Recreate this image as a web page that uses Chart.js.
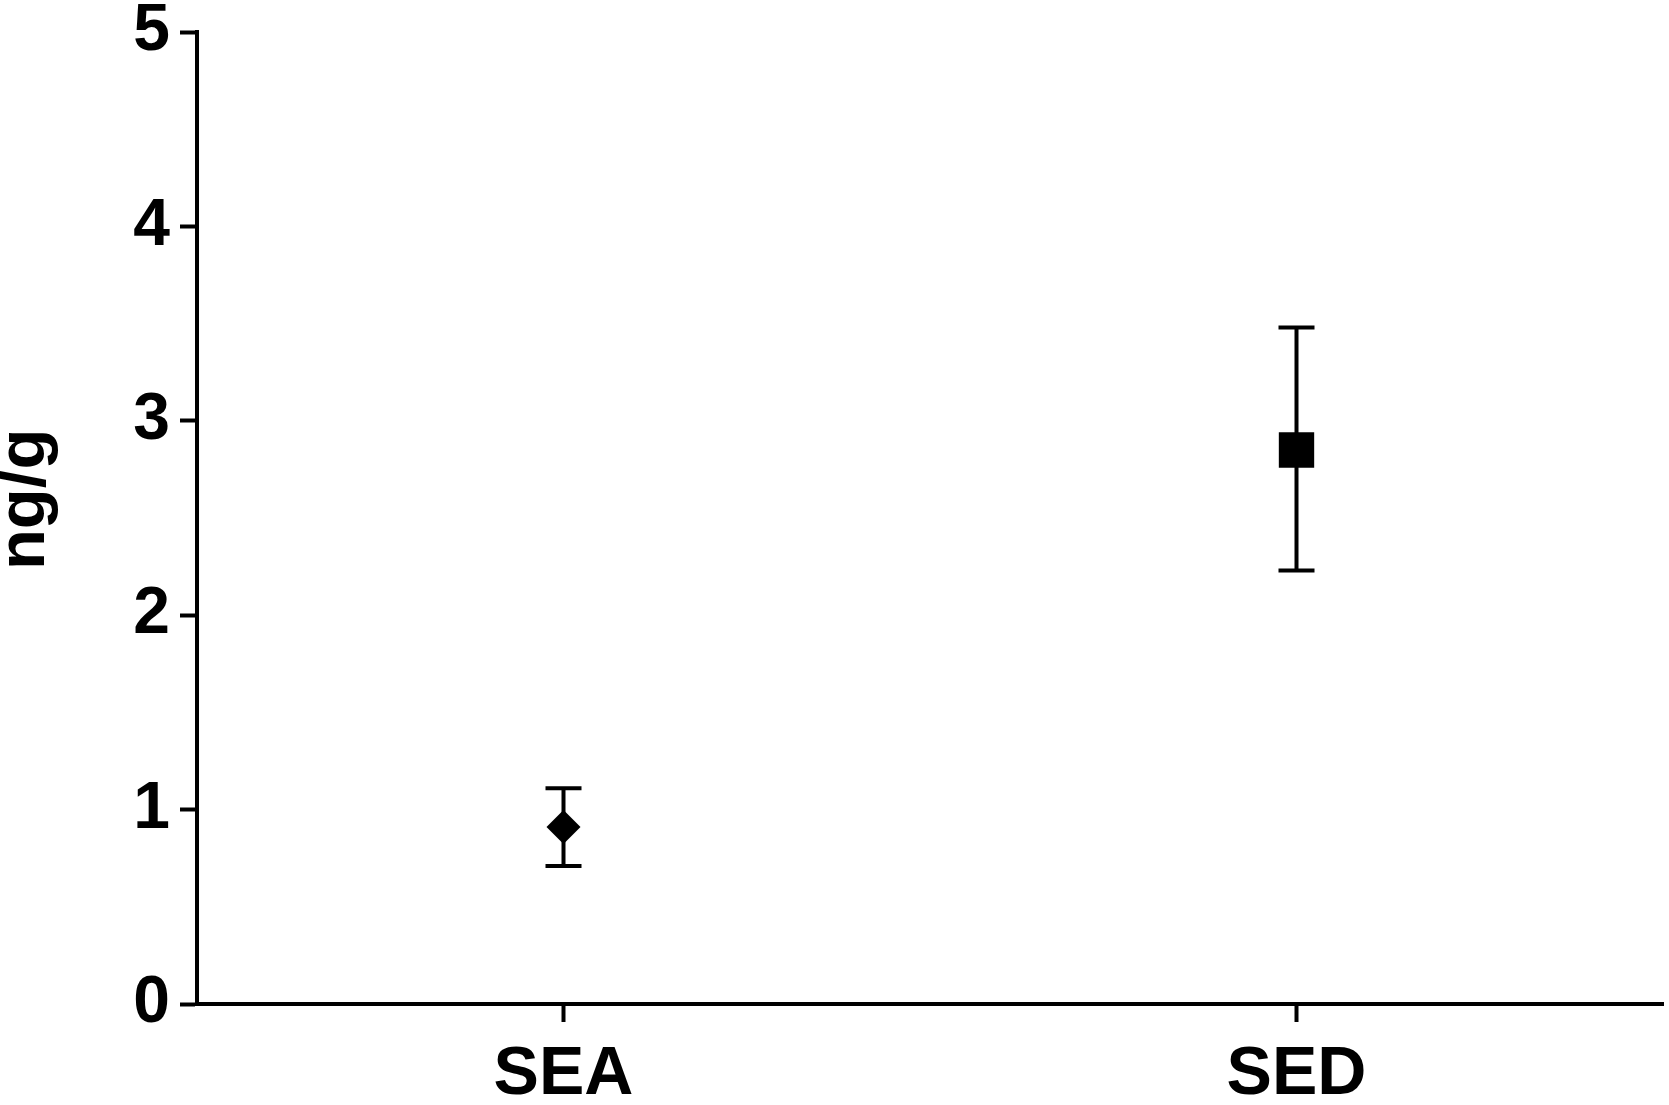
<!DOCTYPE html>
<html>
<head>
<meta charset="utf-8">
<script src="https://cdn.jsdelivr.net/npm/chart.js@4/dist/chart.umd.min.js"></script>
<style>
  html, body { margin: 0; padding: 0; background: #fff; overflow: hidden; }
  #wrap { width: 1669px; height: 1105px; position: relative; }
  canvas { display: block; }
</style>
</head>
<body>
<div id="wrap"><canvas id="grafico"></canvas></div>
<script>
// dados
const categorias = ["SEA", "SED"];
const medias = [0.91, 2.85];
const limiteSup = [1.11, 3.48];
const limiteInf = [0.71, 2.23];
const marcadores = ["rectRot", "rect"];
const raios = [17, 25];
const yTicks = [0, 1, 2, 3, 4, 5];

const fonte = "'Liberation Sans', Arial, sans-serif";

// barras de erro desenhadas com as escalas do Chart.js
const barrasErro = {
    id: 'barrasErro',
    beforeDatasetsDraw(chart) {
        const ctx = chart.ctx;
        const x = chart.scales.x;
        const y = chart.scales.y;
        ctx.save();
        ctx.strokeStyle = '#000';
        ctx.lineWidth = 4;
        categorias.forEach((c, i) => {
            const px = x.getPixelForValue(i);
            const top = y.getPixelForValue(limiteSup[i]);
            const bot = y.getPixelForValue(limiteInf[i]);
            ctx.beginPath();
            ctx.moveTo(px, top);
            ctx.lineTo(px, bot);
            ctx.moveTo(px - 18, top);
            ctx.lineTo(px + 18, top);
            ctx.moveTo(px - 18, bot);
            ctx.lineTo(px + 18, bot);
            ctx.stroke();
        });
        ctx.restore();
    }
};

new Chart(document.getElementById('grafico').getContext('2d'), {
    type: 'line',
    data: {
        labels: categorias,
        datasets: [{
            data: medias,
            showLine: false,
            pointStyle: marcadores,
            pointRadius: raios,
            pointHoverRadius: raios,
            pointBackgroundColor: '#000',
            pointBorderColor: '#000',
            pointBorderWidth: 0
        }]
    },
    options: {
        responsive: true,
        maintainAspectRatio: false,
        animation: false,
        events: [],
        layout: { autoPadding: false, padding: { top: 32, right: 6, left: 0, bottom: 0 } },
        plugins: {
            legend: { display: false },
            tooltip: { enabled: false }
        },
        scales: {
            x: {
                type: 'category',
                offset: true,
                afterFit(s) { s.height = 101; },
                border: { display: true, color: '#000', width: 4 },
                grid: {
                    display: true,
                    drawOnChartArea: false,
                    drawTicks: true,
                    tickLength: 18,
                    tickWidth: 4,
                    tickColor: '#000',
                    offset: false
                },
                ticks: {
                    color: '#000',
                    padding: 19,
                    font: { family: fonte, size: 68, weight: 'bold', lineHeight: 1 }
                }
            },
            y: {
                min: 0,
                max: 5,
                afterFit(s) { s.width = 197; },
                afterBuildTicks(s) { s.ticks = yTicks.map(v => ({ value: v })); },
                border: { display: true, color: '#000', width: 4 },
                grid: {
                    display: true,
                    drawOnChartArea: false,
                    drawTicks: true,
                    tickLength: 17,
                    tickWidth: 4,
                    tickColor: '#000'
                },
                ticks: {
                    color: '#000',
                    padding: 10,
                    font: { family: fonte, size: 66, weight: 'bold', lineHeight: 0.6 }
                },
                title: {
                    display: true,
                    text: '  ng/g',
                    color: '#000',
                    padding: { top: -8, bottom: 0 },
                    font: { family: fonte, size: 67, weight: 'bold', lineHeight: 1 }
                }
            }
        }
    },
    plugins: [barrasErro]
});
</script>
</body>
</html>
